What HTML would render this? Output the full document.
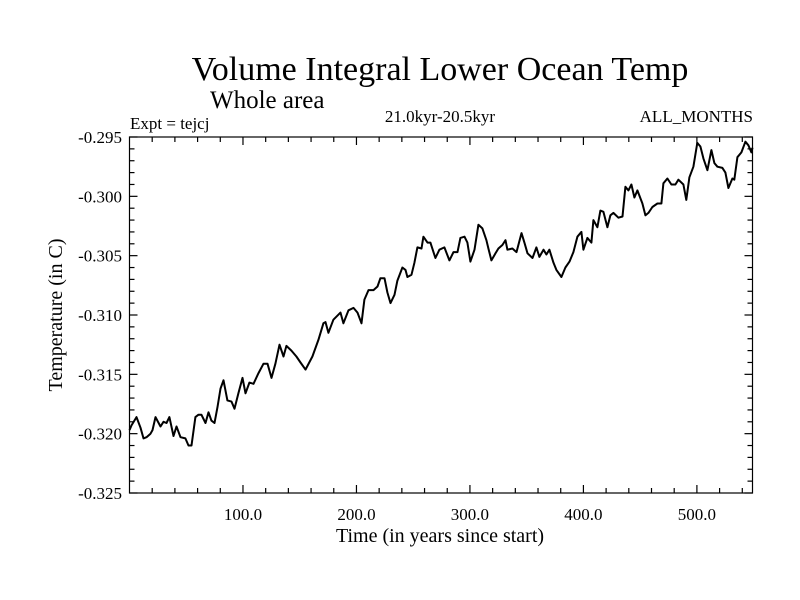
<!DOCTYPE html>
<html><head><meta charset="utf-8"><style>
body{margin:0;background:#fff}
svg{display:block;font-family:"Liberation Serif",serif}
</style></head><body>
<svg id="chart" width="800" height="600" viewBox="0 0 800 600" xmlns="http://www.w3.org/2000/svg">
<rect x="0" y="0" width="800" height="600" fill="#fff"/>
<text x="440" y="80" font-size="34" text-anchor="middle">Volume Integral Lower Ocean Temp</text>
<text x="210" y="108" font-size="25">Whole area</text>
<text x="130" y="129" font-size="17">Expt = tejcj</text>
<text x="440" y="122" font-size="17" text-anchor="middle">21.0kyr-20.5kyr</text>
<text x="753" y="122" font-size="17" text-anchor="end">ALL_MONTHS</text>
<text transform="translate(62,315) rotate(-90)" font-size="20" text-anchor="middle">Temperature (in C)</text>
<text x="440" y="542" font-size="20" text-anchor="middle">Time (in years since start)</text>
<g id="axes"></g>
<path id="series" fill="none" stroke="#000" stroke-width="2" stroke-linejoin="round"/>
<rect x="129.5" y="137" width="623" height="356" fill="none" stroke="#000" stroke-width="1.2"/>
</svg>
<script>
const years=[0,1.8,6.2,9.7,12.3,15,18.5,20.3,22.9,27.3,30,32.6,35.2,38.8,41.4,44.9,49.3,52,54.6,58.1,60.8,63.4,67,69.6,72.2,74.9,77.5,80.2,82.8,86.3,89.9,92.5,96,99.6,102.2,105.7,109.3,113.7,118.1,121.6,125.1,128.6,132.2,135.7,138.3,142.7,147.1,150.7,155.1,161.2,166.5,170.9,172.7,175.3,179.7,185.9,188.5,193,197.4,200.9,204.4,207,210.6,215,218.5,221.1,224.7,227.3,230,233.5,236.1,240.5,243.2,244.9,248.5,251.1,253.7,257.3,259,262.6,265.2,269.6,273.1,277.5,281.9,285.5,289,291.6,295.2,297.8,300.4,304,307.5,311,314.5,316.3,318.9,322.5,325.1,328.6,331.3,333,337.4,341,345.4,348,350.7,355.1,358.6,361.2,364.8,367.4,370,373.6,376.2,380.6,384.1,387.7,391.2,394.7,398.2,400,403.5,407,408.8,412.3,415,417.6,421.1,423.8,426.4,430.8,434.4,437,439.6,442.3,444.9,447.6,452,454.6,457.3,460.8,465.2,468.7,470.5,474,477.5,481.1,483.7,488.1,490.7,493.4,496.9,500.4,503.1,505.7,509.3,512.8,515.4,518.1,522.5,525.1,527.8,531.3,533,535.7,539.2,542.7,545.4,548,549];
const temps=[-0.3197,-0.3193,-0.3186,-0.3195,-0.3204,-0.3203,-0.3200,-0.3197,-0.3186,-0.3194,-0.3190,-0.3191,-0.3186,-0.3202,-0.3194,-0.3203,-0.3204,-0.3210,-0.3210,-0.3186,-0.3184,-0.3184,-0.3191,-0.3182,-0.3189,-0.3191,-0.3178,-0.3162,-0.3155,-0.3172,-0.3173,-0.3179,-0.3166,-0.3153,-0.3166,-0.3157,-0.3158,-0.3149,-0.3141,-0.3141,-0.3153,-0.3141,-0.3125,-0.3135,-0.3126,-0.3130,-0.3135,-0.3140,-0.3146,-0.3135,-0.3121,-0.3107,-0.3106,-0.3115,-0.3104,-0.3098,-0.3107,-0.3096,-0.3094,-0.3098,-0.3107,-0.3087,-0.3079,-0.3079,-0.3076,-0.3069,-0.3069,-0.3081,-0.3090,-0.3083,-0.3071,-0.3060,-0.3062,-0.3068,-0.3066,-0.3056,-0.3043,-0.3044,-0.3034,-0.3039,-0.3039,-0.3052,-0.3045,-0.3043,-0.3054,-0.3047,-0.3047,-0.3035,-0.3034,-0.3039,-0.3055,-0.3045,-0.3024,-0.3027,-0.3037,-0.3044,-0.3054,-0.3048,-0.3044,-0.3041,-0.3037,-0.3045,-0.3044,-0.3047,-0.3031,-0.3039,-0.3048,-0.3052,-0.3043,-0.3051,-0.3045,-0.3049,-0.3045,-0.3056,-0.3062,-0.3068,-0.3060,-0.3055,-0.3047,-0.3034,-0.3030,-0.3045,-0.3035,-0.3039,-0.3020,-0.3026,-0.3012,-0.3013,-0.3026,-0.3016,-0.3014,-0.3018,-0.3017,-0.2992,-0.2995,-0.2990,-0.3001,-0.2995,-0.3006,-0.3016,-0.3014,-0.3009,-0.3006,-0.3006,-0.2989,-0.2985,-0.2990,-0.2990,-0.2986,-0.2990,-0.3003,-0.2984,-0.2975,-0.2955,-0.2958,-0.2968,-0.2978,-0.2961,-0.2972,-0.2975,-0.2976,-0.2980,-0.2993,-0.2985,-0.2986,-0.2967,-0.2963,-0.2954,-0.2957,-0.2963,-0.2959];
const xTickValues=[100,200,300,400,500];
const xTickLabels=["100.0","200.0","300.0","400.0","500.0"];
const yTickValues=[-0.295,-0.300,-0.305,-0.310,-0.315,-0.320,-0.325];
const yTickLabels=["-0.295","-0.300","-0.305","-0.310","-0.315","-0.320","-0.325"];

const L=129.5,R=752.5,T=137,B=493,X0=0,X1=549,Y0=-0.325,Y1=-0.295;
function xs(v){return L+(v-X0)/(X1-X0)*(R-L);}
function ys(v){return B-(v-Y0)/(Y1-Y0)*(B-T);}
const NS="http://www.w3.org/2000/svg";
const axes=document.getElementById('axes');
function line(x1,y1,x2,y2,name){
  const l=document.createElementNS(NS,'line');
  l.setAttribute('x1',x1);l.setAttribute('y1',y1);l.setAttribute('x2',x2);l.setAttribute('y2',y2);
  l.setAttribute('stroke','#000');l.setAttribute('stroke-width','1.2');
  
  
  axes.appendChild(l);
}
function text(x,y,s,anchor,name){
  const t=document.createElementNS(NS,'text');
  t.setAttribute('x',x);t.setAttribute('y',y);t.setAttribute('font-size','17');t.setAttribute('text-anchor',anchor);
  t.textContent=s;
  
  
  axes.appendChild(t);
}
for(let v=20;v<X1;v+=20){
  const major=v%100===0, len=major?8:5, x=xs(v);
  line(x,B,x,B-len,'x-tick');
  line(x,T,x,T+len,'x-tick-top');
}
xTickValues.forEach((v,i)=>text(xs(v),B+27,xTickLabels[i],'middle','x-tick-label'));
for(let k=0;k<=30;k++){
  const v=Y0+k*0.001, major=k%5===0, len=major?8:5, y=ys(v);
  line(L,y,L+len,y,'y-tick');
  line(R,y,R-len,y,'y-tick-right');
}
yTickValues.forEach((v,i)=>text(122,ys(v)+6,yTickLabels[i],'end','y-tick-label'));
let d='';
years.forEach((yr,i)=>{d+=(i?'L':'M')+xs(yr).toFixed(1)+','+ys(temps[i]).toFixed(1);});
document.getElementById('series').setAttribute('d',d);
</script>
</body></html>
